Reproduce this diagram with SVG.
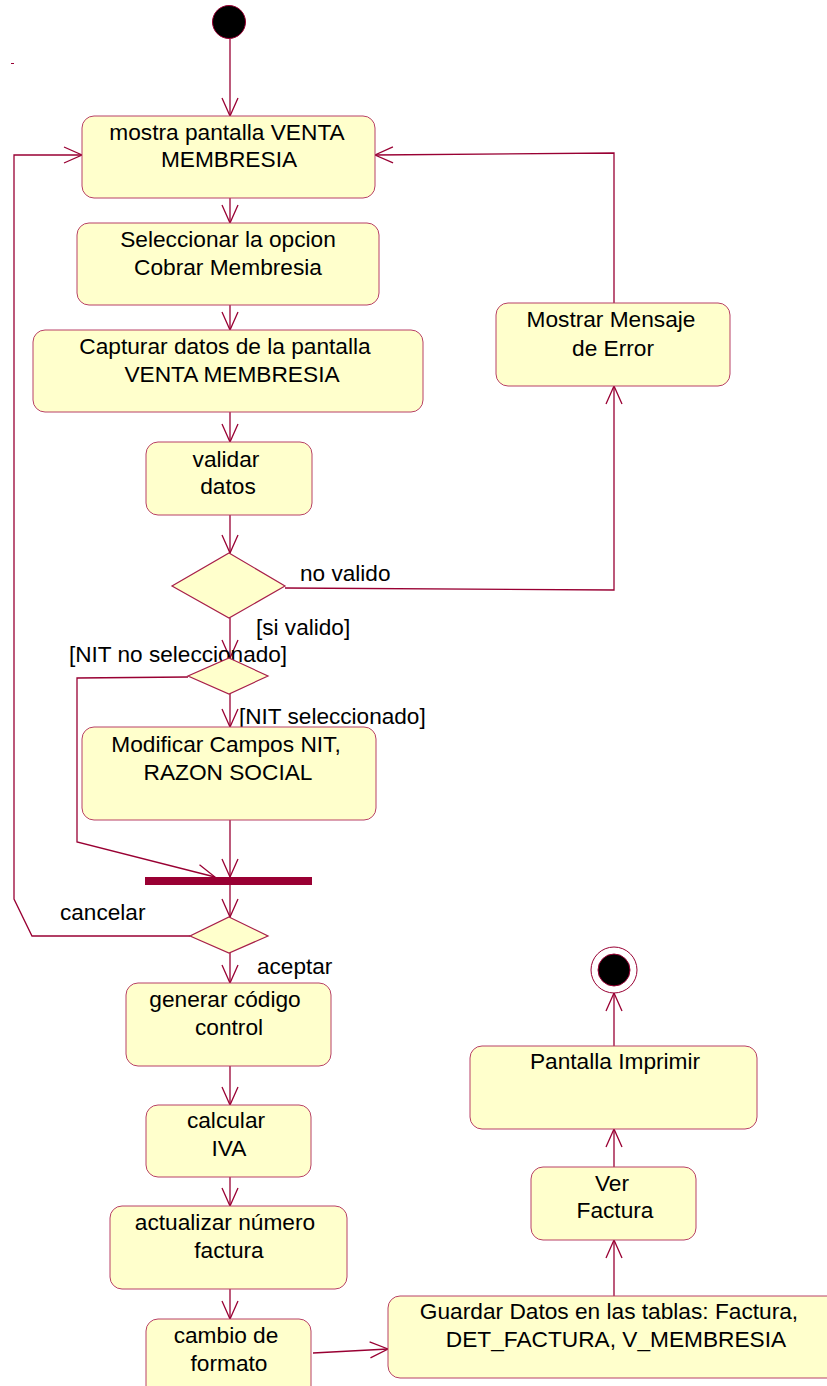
<svg xmlns="http://www.w3.org/2000/svg" width="827" height="1386" viewBox="0 0 827 1386">
<style>
.box{fill:#FFFFCC;stroke:#B84066;stroke-width:1}
.dia{fill:#FFFFCC;stroke:#A8204A;stroke-width:1.2}
.t{font-family:"Liberation Sans",Arial,sans-serif;font-size:22.7px;fill:#000;text-anchor:middle}
.l{font-family:"Liberation Sans",Arial,sans-serif;font-size:22.6px;fill:#000}
.c{fill:none;stroke:#990033;stroke-width:1.3;marker-end:url(#arr)}
</style>
<defs>
<marker id="arr" viewBox="0 0 20 18" refX="19" refY="9" markerWidth="20" markerHeight="18" markerUnits="userSpaceOnUse" orient="auto">
<path d="M1,1 L19,9 L1,17" fill="none" stroke="#990033" stroke-width="1.3"/>
</marker>
</defs>
<rect width="827" height="1386" fill="#fff"/>
<line x1="11" y1="63.5" x2="14" y2="63.5" stroke="#990033" stroke-width="1"/>

<g id="connectors">
<path class="c" d="M230,39 V116"/>
<path class="c" d="M230,198 V223"/>
<path class="c" d="M230,305 V330"/>
<path class="c" d="M230,412 V442"/>
<path class="c" d="M230,515 V553"/>
<path class="c" d="M285,588 L614,590 V386"/>
<path class="c" d="M614,303 V153 L375,155"/>
<path class="c" d="M230,618 V658"/>
<path class="c" d="M230,694 V727"/>
<path class="c" d="M188,677 L77,678 V842 L215,877"/>
<path class="c" d="M230,820 V877"/>
<path class="c" d="M230,885 V917"/>
<path class="c" d="M190,936 H32 L14,899 V155 H82"/>
<path class="c" d="M230,953 V983"/>
<path class="c" d="M230,1066 V1105"/>
<path class="c" d="M230,1177 V1206"/>
<path class="c" d="M230,1289 V1319"/>
<path class="c" d="M313,1353 L388,1349"/>
<path class="c" d="M614,1296 V1240"/>
<path class="c" d="M614,1167 V1129"/>
<path class="c" d="M614,1046 V993"/>
</g>

<g id="labels">
<text class="l" x="300" y="581">no valido</text>
<text class="l" x="256" y="635">[si valido]</text>
<text class="l" x="69" y="662">[NIT no seleccionado]</text>
<text class="l" x="239" y="724">[NIT seleccionado]</text>
<text class="l" x="60" y="920">cancelar</text>
<text class="l" x="257" y="974">aceptar</text>
</g>

<g id="start"><circle cx="229" cy="22" r="16.5" fill="#000" stroke="#990033" stroke-width="1"/></g>

<g id="n1"><rect class="box" x="82" y="116" width="293" height="82" rx="12"/>
<text class="t" x="227" y="140">mostra pantalla VENTA</text><text class="t" x="229" y="167">MEMBRESIA</text></g>

<g id="n2"><rect class="box" x="77" y="223" width="302" height="82" rx="12"/>
<text class="t" x="228" y="247">Seleccionar la opcion</text><text class="t" x="228" y="275">Cobrar Membresia</text></g>

<g id="n3"><rect class="box" x="33" y="330" width="390" height="82" rx="12"/>
<text class="t" x="225" y="354">Capturar datos de la pantalla</text><text class="t" x="232" y="382">VENTA MEMBRESIA</text></g>

<g id="n4"><rect class="box" x="146" y="442" width="166" height="73" rx="12"/>
<text class="t" x="226" y="467">validar</text><text class="t" x="228" y="494">datos</text></g>

<g id="d1"><polygon class="dia" points="229,553 285,586 229,618 172,586"/></g>

<g id="n5"><rect class="box" x="496" y="303" width="234" height="83" rx="12"/>
<text class="t" x="611" y="327">Mostrar Mensaje</text><text class="t" x="613" y="356">de Error</text></g>

<g id="d2"><polygon class="dia" points="229,658 268,676 229,694 188,676"/></g>

<g id="n6"><rect class="box" x="82" y="727" width="294" height="93" rx="12"/>
<text class="t" x="226" y="752">Modificar Campos NIT,</text><text class="t" x="228" y="780">RAZON SOCIAL</text></g>

<g id="bar"><rect x="145" y="877" width="167" height="8" fill="#990033"/></g>

<g id="d3"><polygon class="dia" points="229,917 268,936 229,953 190,936"/></g>

<g id="n7"><rect class="box" x="126" y="983" width="205" height="83" rx="12"/>
<text class="t" x="225" y="1007">generar código</text><text class="t" x="229" y="1035">control</text></g>

<g id="n8"><rect class="box" x="146" y="1105" width="165" height="72" rx="12"/>
<text class="t" x="226" y="1128">calcular</text><text class="t" x="229" y="1156">IVA</text></g>

<g id="n9"><rect class="box" x="110" y="1206" width="237" height="83" rx="12"/>
<text class="t" x="225" y="1230">actualizar número</text><text class="t" x="229" y="1258">factura</text></g>

<g id="n10"><rect class="box" x="146" y="1319" width="165" height="80" rx="12"/>
<text class="t" x="226" y="1343">cambio de</text><text class="t" x="229" y="1371">formato</text></g>

<g id="n11"><rect class="box" x="388" y="1296" width="452" height="82" rx="12"/>
<text class="t" x="609" y="1319">Guardar Datos en las tablas: Factura,</text><text class="t" x="616" y="1347">DET_FACTURA, V_MEMBRESIA</text></g>

<g id="n12"><rect class="box" x="531" y="1167" width="165" height="73" rx="12"/>
<text class="t" x="612" y="1191">Ver</text><text class="t" x="615" y="1218">Factura</text></g>

<g id="n13"><rect class="box" x="470" y="1046" width="287" height="83" rx="12"/>
<text class="t" x="615" y="1069">Pantalla Imprimir</text></g>

<g id="end"><circle cx="614" cy="970" r="23" fill="#fff" stroke="#990033" stroke-width="1"/><circle cx="614" cy="970" r="16" fill="#000" stroke="#990033" stroke-width="1"/></g>
</svg>
